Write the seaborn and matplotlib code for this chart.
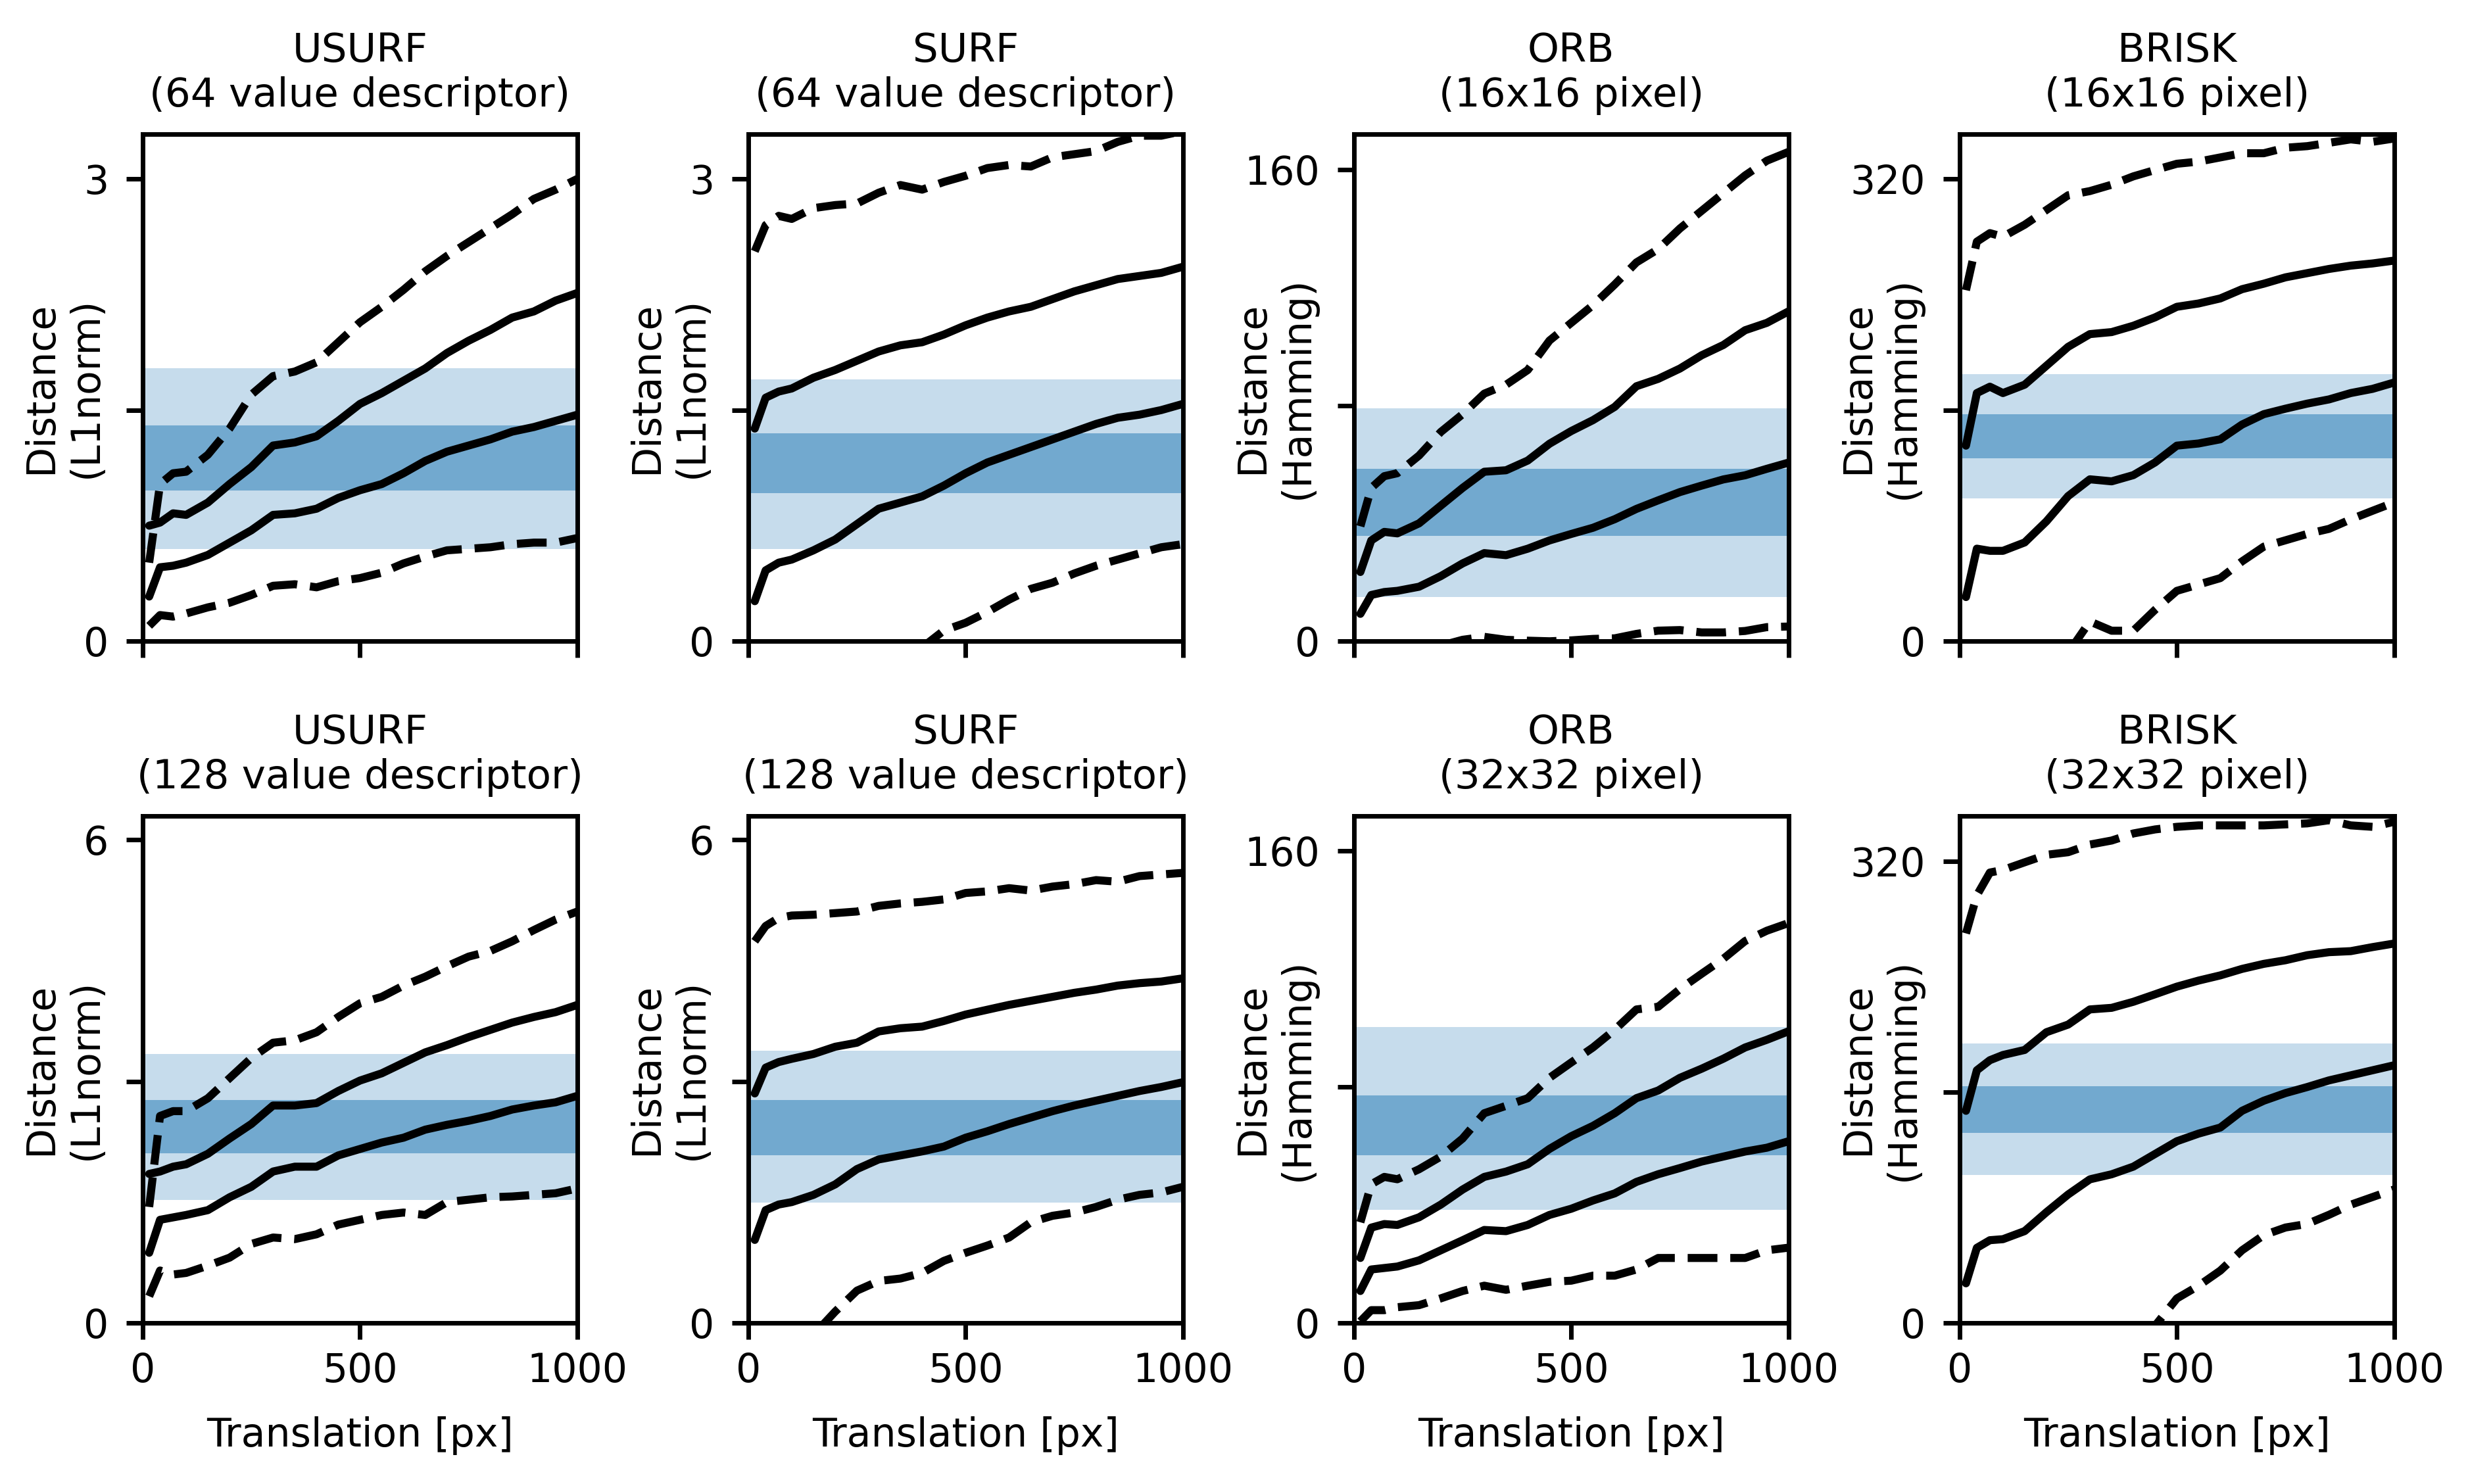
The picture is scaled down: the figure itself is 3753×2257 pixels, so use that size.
import matplotlib
matplotlib.use("Agg")
import matplotlib.pyplot as plt
import seaborn as sns

# translation steps (px) at which the distances were read
translation = [15, 40, 70, 100, 150, 200, 250, 300, 350, 400, 450, 500,
               550, 600, 650, 700, 750, 800, 850, 900, 950, 1000]

titles = ["USURF\n(64 value descriptor)", "SURF\n(64 value descriptor)",
          "ORB\n(16x16 pixel)", "BRISK\n(16x16 pixel)",
          "USURF\n(128 value descriptor)", "SURF\n(128 value descriptor)",
          "ORB\n(32x32 pixel)", "BRISK\n(32x32 pixel)"]
ylabels = ["Distance\n(L1norm)", "Distance\n(L1norm)", "Distance\n(Hamming)", "Distance\n(Hamming)",
           "Distance\n(L1norm)", "Distance\n(L1norm)", "Distance\n(Hamming)", "Distance\n(Hamming)"]
tick_tops = [3, 3, 160, 320, 6, 6, 160, 320]
y_tops = [3.29, 3.29, 172, 351, 6.3, 6.3, 172, 351.6]

# non-matching reference bands (outer = light, inner = dark)
band_outer = [(0.60, 1.77), (0.60, 1.70), (15.0, 79.1), (99.0, 185.0),
              (1.53, 3.34), (1.49, 3.38), (38.4, 100.3), (102.3, 193.7)]
band_inner = [(0.98, 1.40), (0.96, 1.35), (35.7, 58.5), (126.7, 157.2),
              (2.11, 2.77), (2.08, 2.77), (56.9, 77.1), (131.9, 164.2)]

# USURF 64
usurf64_hi_dash = [0.51, 1.02, 1.09, 1.10, 1.21, 1.38, 1.60, 1.72, 1.75, 1.81, 1.94, 2.07,
                   2.17, 2.28, 2.40, 2.50, 2.59, 2.68, 2.77, 2.87, 2.93, 3.00]
usurf64_hi = [0.75, 0.77, 0.83, 0.82, 0.90, 1.02, 1.13, 1.27, 1.29, 1.33, 1.43, 1.54,
              1.61, 1.69, 1.77, 1.87, 1.95, 2.02, 2.10, 2.14, 2.21, 2.26]
usurf64_lo = [0.29, 0.48, 0.49, 0.51, 0.56, 0.64, 0.72, 0.82, 0.83, 0.86, 0.93, 0.98,
              1.02, 1.09, 1.17, 1.23, 1.27, 1.31, 1.36, 1.39, 1.43, 1.47]
usurf64_lo_dash = [0.10, 0.17, 0.16, 0.18, 0.22, 0.25, 0.30, 0.36, 0.37, 0.35, 0.39, 0.41,
                   0.445, 0.505, 0.55, 0.59, 0.60, 0.61, 0.63, 0.64, 0.64, 0.67]

# SURF 64
surf64_hi_dash = [2.53, 2.70, 2.76, 2.74, 2.81, 2.83, 2.84, 2.91, 2.96, 2.93, 2.98, 3.02,
                  3.07, 3.09, 3.08, 3.14, 3.16, 3.18, 3.24, 3.28, 3.28, 3.31]
surf64_hi = [1.38, 1.58, 1.62, 1.64, 1.71, 1.76, 1.82, 1.88, 1.92, 1.94, 1.99, 2.05,
             2.10, 2.14, 2.17, 2.22, 2.27, 2.31, 2.35, 2.37, 2.39, 2.43]
surf64_lo = [0.26, 0.46, 0.51, 0.53, 0.59, 0.66, 0.76, 0.86, 0.90, 0.94, 1.01, 1.09,
             1.16, 1.21, 1.26, 1.31, 1.36, 1.41, 1.45, 1.47, 1.50, 1.54]
surf64_lo_dash = [-0.90, -0.75, -0.65, -0.58, -0.46, -0.35, -0.25, -0.17, -0.10, -0.04, 0.07, 0.12,
                  0.19, 0.27, 0.34, 0.38, 0.44, 0.49, 0.53, 0.57, 0.61, 0.63]

# ORB 16x16
orb16_hi_dash = [39, 52, 56, 57, 63, 71, 77, 84, 87, 92, 102, 108,
                 114, 121, 128.5, 133, 140, 146, 152, 158, 163, 166]
orb16_hi = [23.5, 34.2, 37.1, 36.6, 40.0, 46.0, 52.0, 57.5, 58.0, 61.3, 67.0, 71.3,
            75.0, 79.5, 86.5, 89.0, 92.5, 97.0, 100.5, 105.5, 108.0, 111.9]
orb16_lo = [9.3, 15.7, 16.7, 17.1, 18.5, 22.1, 26.4, 29.9, 29.2, 31.4, 34.2, 36.4,
            38.5, 41.4, 44.9, 47.8, 50.6, 52.8, 54.9, 56.3, 58.5, 60.6]
orb16_lo_dash = [-8, -6, -5, -4, -3, -1.5, 0.5, 1.5, 0.5, 0.2, 0.0, 0.3,
                 0.8, 1.0, 2.5, 3.6, 3.8, 3.0, 3.0, 3.5, 4.8, 5.0]

# BRISK 16x16
brisk16_hi_dash = [243, 276.6, 282.5, 280, 288.3, 298.5, 308.7, 311.6, 316, 321.8, 326.2, 330.5,
                   332, 334.9, 337.8, 337.8, 341.6, 342.7, 345, 347.4, 345.7, 348]
brisk16_hi = [135.4, 171.8, 176.2, 171.8, 177.6, 190.7, 203.8, 212.6, 214, 218.4, 224.2, 231.5,
              233.8, 237.3, 243.7, 247.5, 251.9, 254.8, 257.7, 260, 261.5, 263.5]
brisk16_lo = [30.6, 64.1, 62.6, 62.6, 68.4, 83, 100.5, 112.1, 110.7, 115, 123.8, 135.4,
              136.9, 139.8, 150, 157.2, 161, 164.5, 167.4, 171.8, 174.7, 179.1]
brisk16_lo_dash = [-60, -50, -45, -40, -30, -20, -8, 13.7, 7.3, 7.3, 21.8, 34.9,
                   39.3, 43.7, 55.3, 65.5, 69.9, 74.3, 77.8, 84.4, 90.3, 96.1]

# USURF 128
usurf128_hi_dash = [1.44, 2.57, 2.63, 2.63, 2.79, 3.04, 3.29, 3.48, 3.51, 3.61, 3.80, 3.97,
                    4.05, 4.19, 4.30, 4.43, 4.55, 4.62, 4.74, 4.88, 5.01, 5.11]
usurf128_hi = [1.85, 1.88, 1.94, 1.97, 2.10, 2.29, 2.47, 2.70, 2.70, 2.73, 2.88, 3.01,
               3.10, 3.23, 3.36, 3.45, 3.55, 3.64, 3.73, 3.80, 3.86, 3.95]
usurf128_lo = [0.87, 1.28, 1.31, 1.34, 1.40, 1.56, 1.69, 1.88, 1.94, 1.94, 2.08, 2.16,
               2.24, 2.30, 2.40, 2.46, 2.51, 2.57, 2.65, 2.70, 2.74, 2.82]
usurf128_lo_dash = [0.33, 0.65, 0.60, 0.62, 0.71, 0.81, 0.98, 1.06, 1.04, 1.10, 1.22, 1.28,
                    1.34, 1.37, 1.34, 1.50, 1.53, 1.56, 1.57, 1.59, 1.61, 1.67]

# SURF 128
surf128_hi_dash = [4.74, 4.93, 5.03, 5.06, 5.07, 5.09, 5.11, 5.18, 5.21, 5.23, 5.26, 5.34,
                   5.36, 5.40, 5.37, 5.42, 5.45, 5.50, 5.48, 5.55, 5.57, 5.59]
surf128_hi = [2.85, 3.17, 3.24, 3.28, 3.34, 3.43, 3.48, 3.62, 3.66, 3.68, 3.75, 3.83,
              3.89, 3.95, 4.00, 4.05, 4.10, 4.14, 4.19, 4.22, 4.24, 4.28]
surf128_lo = [1.03, 1.40, 1.47, 1.50, 1.59, 1.72, 1.91, 2.03, 2.08, 2.13, 2.19, 2.30,
              2.38, 2.47, 2.55, 2.63, 2.70, 2.76, 2.82, 2.88, 2.93, 2.99]
surf128_lo_dash = [-0.80, -0.65, -0.50, -0.35, -0.15, 0.14, 0.40, 0.52, 0.55, 0.62, 0.77, 0.87,
                   0.96, 1.06, 1.25, 1.33, 1.37, 1.44, 1.53, 1.59, 1.62, 1.69]

# ORB 32x32
orb32_hi_dash = [34.1, 47.0, 49.5, 48.7, 52.1, 56.4, 62.5, 71.1, 73.6, 76.2, 83.1, 88.3,
                 93.4, 99.4, 106.3, 107.2, 113.2, 118.4, 123.5, 129.5, 133.0, 135.6]
orb32_hi = [22.0, 32.3, 33.5, 33.2, 35.8, 40.1, 45.2, 49.5, 51.3, 53.8, 59.0, 63.3,
            66.8, 71.1, 76.2, 78.8, 83.1, 86.2, 89.6, 93.4, 96.0, 98.9]
orb32_lo = [10.8, 18.1, 18.6, 19.1, 21.2, 24.6, 28.0, 31.5, 31.1, 33.2, 36.6, 38.7,
            41.5, 43.9, 47.8, 50.4, 52.5, 54.7, 56.4, 58.1, 59.4, 61.6]
orb32_lo_dash = [0.5, 4.3, 4.3, 5.3, 6.0, 8.3, 10.8, 12.6, 11.2, 12.6, 13.9, 14.3,
                 16.0, 16.0, 18.1, 22.0, 22.0, 22.0, 22.0, 22.0, 24.6, 25.5]

# BRISK 32x32
brisk32_hi_dash = [270, 296.4, 312.2, 314, 319.3, 324.5, 326.3, 331.6, 334.4, 339.3, 342.1, 343.9,
                   344.9, 344.9, 344.9, 344.9, 345.6, 346.3, 348.5, 344.9, 343.9, 347.4]
brisk32_hi = [147, 175.1, 182.1, 185.7, 189.2, 201.5, 206.8, 217.3, 218.4, 222.6, 227.8, 233.1,
              237.3, 240.9, 245.4, 248.9, 251.4, 254.9, 257, 257.7, 260.5, 263]
brisk32_lo = [27.4, 52, 57.3, 58, 63.6, 76.7, 89, 99.5, 103, 108.3, 117.1, 125.9,
              131.2, 135.4, 147, 154, 159.3, 163.5, 168.1, 171.6, 175.1, 178.6]
brisk32_lo_dash = [-140, -120, -110, -100, -90, -75, -60, -45, -30, -18, -2, 16.9,
                   25.7, 36.2, 50.3, 60.8, 66.1, 68.6, 74.9, 81.9, 87.2, 92.5]

panels = [
    (usurf64_hi_dash, usurf64_hi, usurf64_lo, usurf64_lo_dash),
    (surf64_hi_dash, surf64_hi, surf64_lo, surf64_lo_dash),
    (orb16_hi_dash, orb16_hi, orb16_lo, orb16_lo_dash),
    (brisk16_hi_dash, brisk16_hi, brisk16_lo, brisk16_lo_dash),
    (usurf128_hi_dash, usurf128_hi, usurf128_lo, usurf128_lo_dash),
    (surf128_hi_dash, surf128_hi, surf128_lo, surf128_lo_dash),
    (orb32_hi_dash, orb32_hi, orb32_lo, orb32_lo_dash),
    (brisk32_hi_dash, brisk32_hi, brisk32_lo, brisk32_lo_dash),
]

sns.set_style("ticks")
plt.rcParams.update({
    "font.family": ["DejaVu Sans"],
    "font.size": 10.8,
    "axes.titlesize": 11,
    "axes.labelsize": 10.8,
    "xtick.labelsize": 10.8,
    "ytick.labelsize": 10.8,
    "axes.edgecolor": "black",
    "axes.labelcolor": "black",
    "text.color": "black",
    "xtick.color": "black",
    "ytick.color": "black",
    "axes.linewidth": 1.25,
    "xtick.major.width": 1.25,
    "ytick.major.width": 1.25,
    "xtick.major.size": 4.5,
    "ytick.major.size": 4.5,
    "ytick.major.pad": 4.8,
})

band_color = "#1f77b4"

fig, axes = plt.subplots(2, 4, figsize=(3753 / 400, 2257 / 400), dpi=400)
fig.subplots_adjust(left=0.0578, right=0.9701, bottom=0.1086, top=0.9096,
                    wspace=0.393, hspace=0.344)

for i, ax in enumerate(axes.flat):
    ax.axhspan(*band_outer[i], color=band_color, alpha=0.25, lw=0, zorder=0)
    ax.axhspan(*band_inner[i], color=band_color, alpha=0.5, lw=0, zorder=0)

    hi_dash, hi, lo, lo_dash = panels[i]
    for vals, ls in [(hi_dash, "--"), (hi, "-"), (lo, "-"), (lo_dash, "--")]:
        sns.lineplot(x=translation, y=vals, ax=ax, color="black",
                     linewidth=2.2, linestyle=ls)

    ax.set_xlim(0, 1000)
    ax.set_ylim(0, y_tops[i])
    top = tick_tops[i]
    ax.set_yticks([0, top / 2, top])
    ax.set_yticklabels(["0", "", str(top)])
    ax.set_xticks([0, 500, 1000])
    ax.set_title(titles[i], pad=7.5)
    ax.set_ylabel(ylabels[i])
    ax.yaxis.set_label_coords(-0.085, 0.5)
    if i < 4:
        ax.set_xticklabels([])
        ax.set_xlabel("")
    else:
        ax.set_xlabel("Translation [px]", labelpad=7)

fig.savefig("out.png", dpi=400)
